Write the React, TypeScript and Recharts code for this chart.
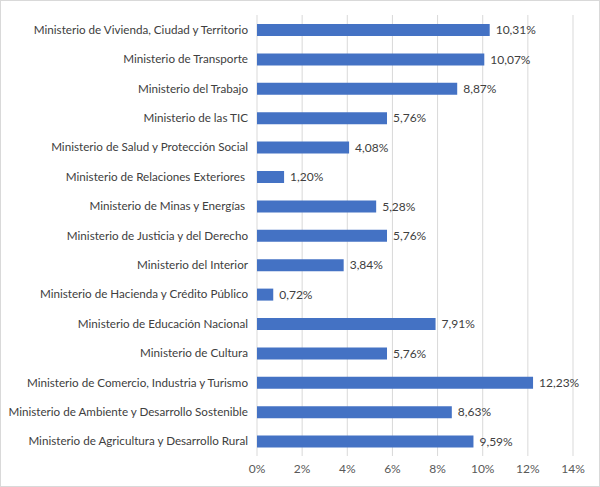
import { BarChart, Bar, XAxis, YAxis, CartesianGrid, LabelList } from 'recharts'

const ministerios = [
  'Ministerio de Vivienda, Ciudad y Territorio',
  'Ministerio de Transporte',
  'Ministerio del Trabajo',
  'Ministerio de las TIC',
  'Ministerio de Salud y Protección Social',
  'Ministerio de Relaciones Exteriores ',
  'Ministerio de Minas y Energías ',
  'Ministerio de Justicia y del Derecho',
  'Ministerio del Interior',
  'Ministerio de Hacienda y Crédito Público',
  'Ministerio de Educación Nacional',
  'Ministerio de Cultura',
  'Ministerio de Comercio, Industria y Turismo',
  'Ministerio de Ambiente y Desarrollo Sostenible',
  'Ministerio de Agricultura y Desarrollo Rural',
]

const porcentajes = [10.31, 10.07, 8.87, 5.76, 4.08, 1.2, 5.28, 5.76, 3.84, 0.72, 7.91, 5.76, 12.23, 8.63, 9.59]

const ticksX = [0, 2, 4, 6, 8, 10, 12, 14]

const datos = ministerios.map((nombre, i) => ({ nombre, valor: porcentajes[i] }))

const pct = (v: number) => v.toFixed(2).replace('.', ',') + '%'

// etiqueta en una sola línea, sin cortes
function TickMinisterio({ x, y, payload }: any) {
  return (
    <text
      x={x}
      y={y}
      dy="0.35em"
      textAnchor="end"
      fontSize={11.65}
      fill="#404040"
      style={{ whiteSpace: 'pre' }}
    >
      {payload.value}
    </text>
  )
}

export default function App() {
  return (
    <div
      style={{
        position: 'fixed',
        left: 0,
        top: 0,
        width: 600,
        height: 487,
        boxSizing: 'border-box',
        border: '1px solid #d9d9d9',
        background: '#fff',
        fontFamily: 'Lato, sans-serif',
      }}
    >
      <BarChart
        width={598}
        height={485}
        data={datos}
        layout="vertical"
        margin={{ top: 14, right: 26, bottom: 9, left: 0 }}
      >
        <CartesianGrid horizontal={false} stroke="#d9d9d9" />
        <XAxis
          type="number"
          domain={[0, 14]}
          ticks={ticksX}
          tickFormatter={(v: number) => `${v}%`}
          axisLine={false}
          tickLine={false}
          tickSize={0}
          tickMargin={8}
          height={21}
          tick={{ fontSize: 12, fill: '#595959' }}
        />
        <YAxis
          type="category"
          dataKey="nombre"
          width={256}
          axisLine={false}
          tickLine={false}
          tickSize={0}
          tickMargin={9}
          interval={0}
          tick={<TickMinisterio />}
        />
        <Bar dataKey="valor" fill="#4472c4" barSize={12} isAnimationActive={false}>
          <LabelList
            dataKey="valor"
            position="right"
            offset={6}
            formatter={(v: number) => pct(Number(v))}
            style={{ fontSize: 12, fill: '#404040' }}
          />
        </Bar>
      </BarChart>
    </div>
  )
}
